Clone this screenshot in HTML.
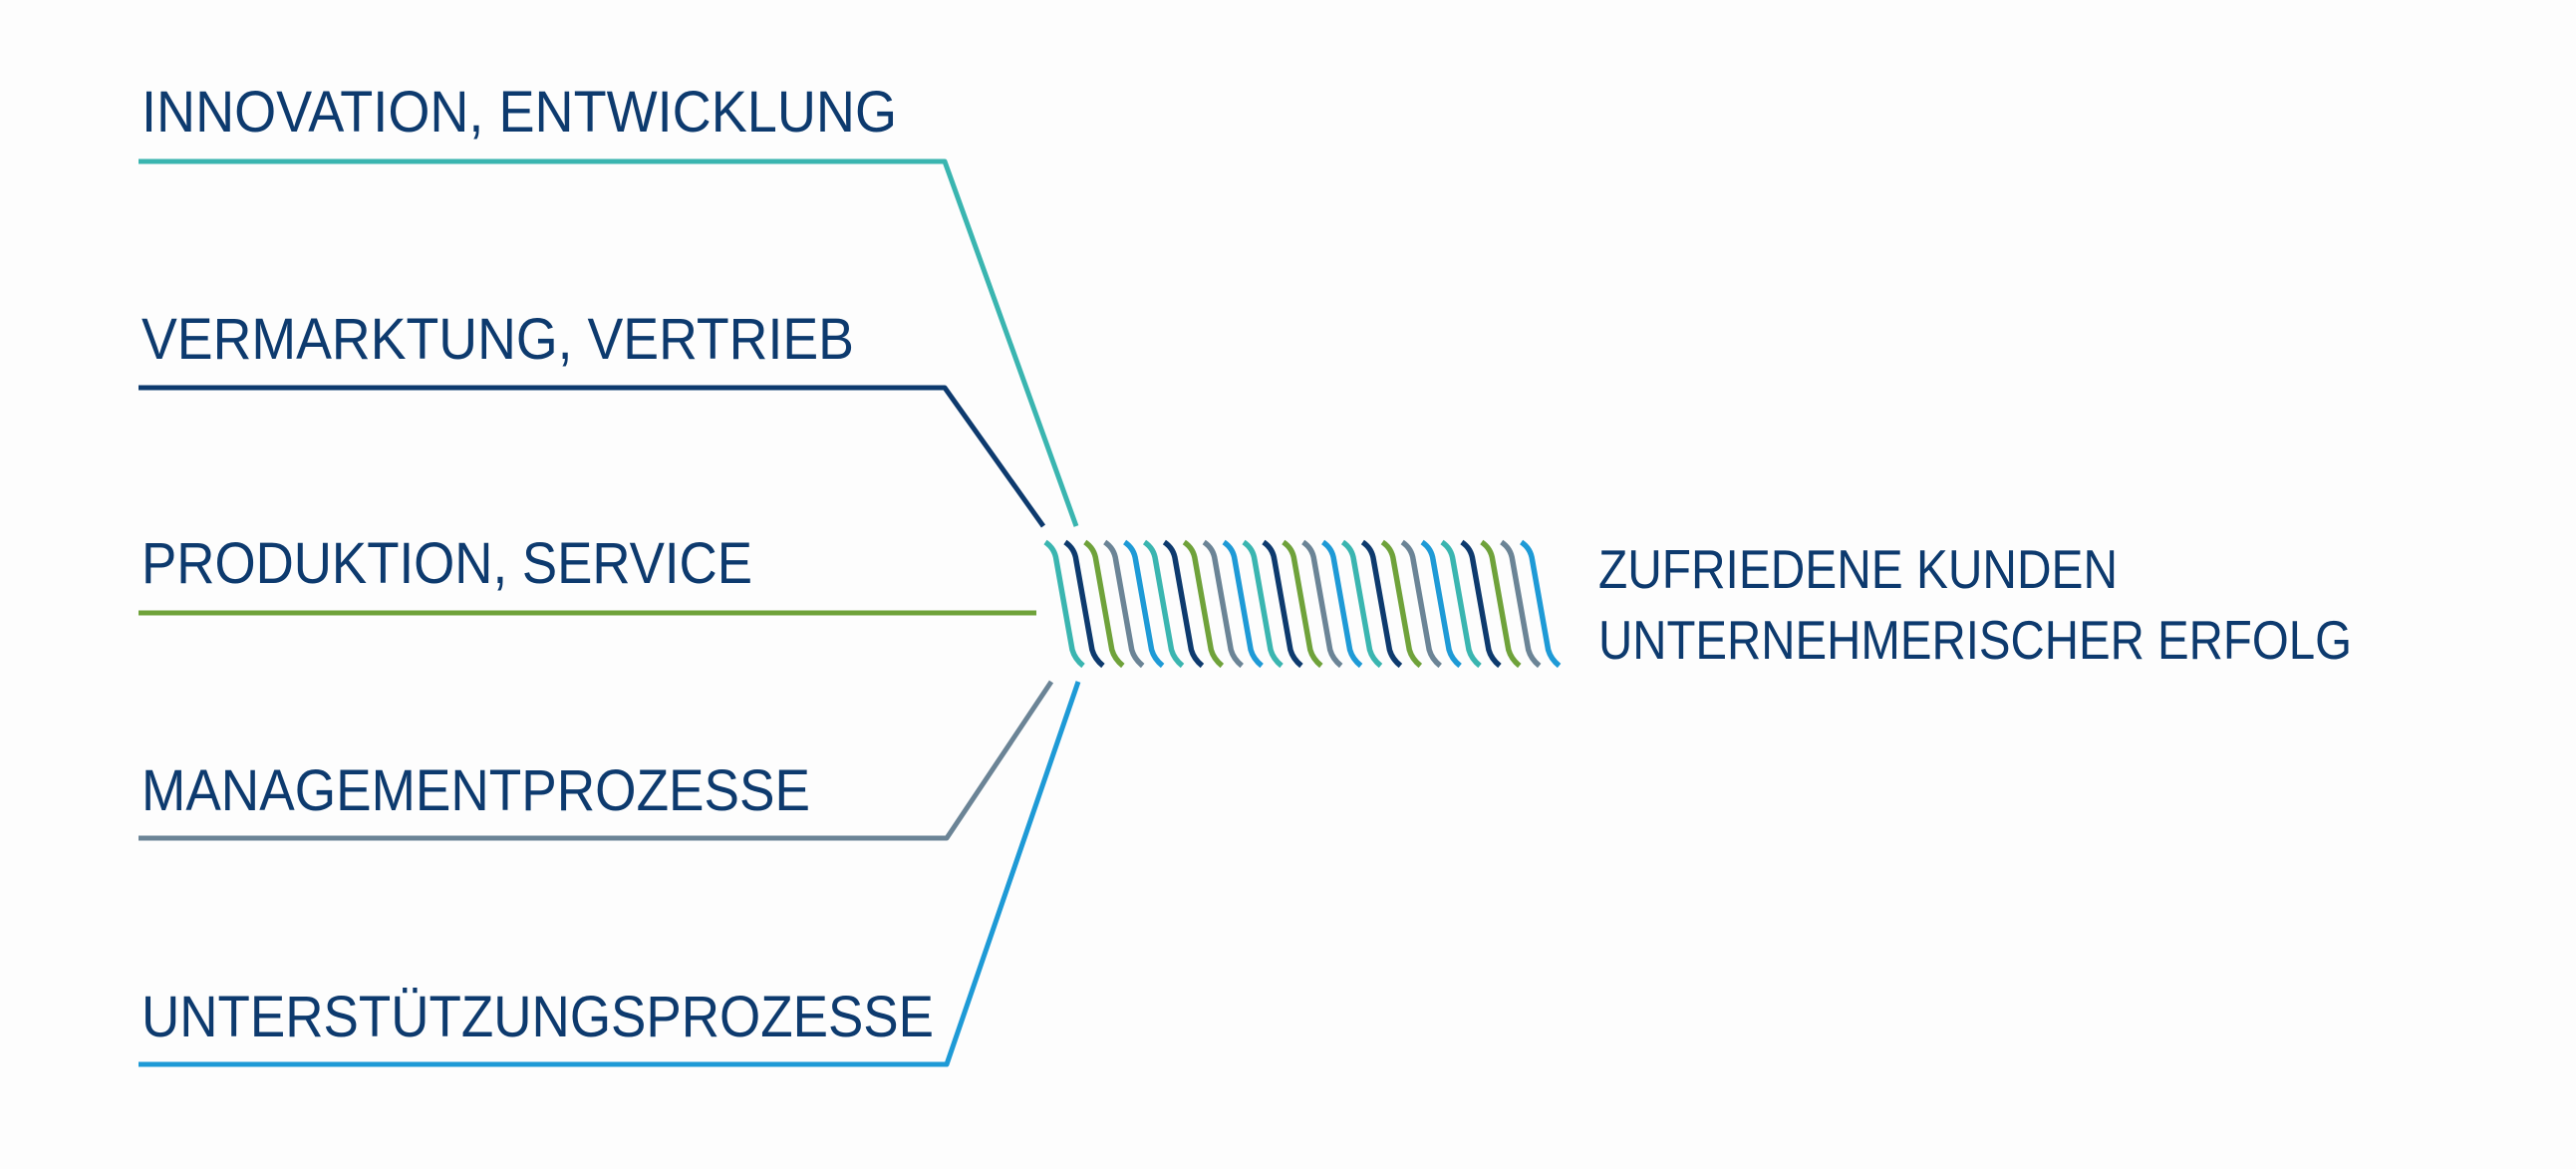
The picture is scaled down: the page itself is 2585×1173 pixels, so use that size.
<!DOCTYPE html>
<html><head><meta charset="utf-8"><style>
html,body{margin:0;padding:0;background:#fdfdfd;}
svg{display:block;}
text{font-family:"Liberation Sans",sans-serif;fill:#0d3a6e;}
</style></head><body>
<svg width="2585" height="1173" viewBox="0 0 2585 1173" xmlns="http://www.w3.org/2000/svg">
<rect width="2585" height="1173" fill="#fdfdfd"/>
<g font-size="58">
<text x="142" y="132" textLength="758" lengthAdjust="spacingAndGlyphs">INNOVATION, ENTWICKLUNG</text>
<text x="142" y="360" textLength="715" lengthAdjust="spacingAndGlyphs">VERMARKTUNG, VERTRIEB</text>
<text x="142" y="585" textLength="613" lengthAdjust="spacingAndGlyphs">PRODUKTION, SERVICE</text>
<text x="142" y="813" textLength="671" lengthAdjust="spacingAndGlyphs">MANAGEMENTPROZESSE</text>
<text x="142" y="1040" textLength="795" lengthAdjust="spacingAndGlyphs">UNTERSTÜTZUNGSPROZESSE</text>
</g>
<g font-size="55">
<text x="1604" y="590" textLength="521" lengthAdjust="spacingAndGlyphs">ZUFRIEDENE KUNDEN</text>
<text x="1604" y="661" textLength="756" lengthAdjust="spacingAndGlyphs">UNTERNEHMERISCHER ERFOLG</text>
</g>
<g fill="none" stroke-width="5" stroke-linejoin="round">
<polyline points="139,162 948,162 1080,528" stroke="#3ab5b0"/>
<polyline points="139,389 948,389 1047,528" stroke="#0d3a6e"/>
<polyline points="139,615 1040,615" stroke="#6fa23a"/>
<polyline points="139,841 950,841 1055,684" stroke="#6b8496"/>
<polyline points="139,1068 950,1068 1082,684" stroke="#1e9ad6"/>
</g>
<g fill="none" stroke-width="5.5">
<path stroke="#3ab5b0" d="M1049,544 c6,4 10,10 11,18 l16,90 c2,7 6,12 11,16"/>
<path stroke="#0d3a6e" d="M1068.9,544 c6,4 10,10 11,18 l16,90 c2,7 6,12 11,16"/>
<path stroke="#6fa23a" d="M1088.8,544 c6,4 10,10 11,18 l16,90 c2,7 6,12 11,16"/>
<path stroke="#6b8496" d="M1108.7,544 c6,4 10,10 11,18 l16,90 c2,7 6,12 11,16"/>
<path stroke="#1e9ad6" d="M1128.6,544 c6,4 10,10 11,18 l16,90 c2,7 6,12 11,16"/>
<path stroke="#3ab5b0" d="M1148.5,544 c6,4 10,10 11,18 l16,90 c2,7 6,12 11,16"/>
<path stroke="#0d3a6e" d="M1168.4,544 c6,4 10,10 11,18 l16,90 c2,7 6,12 11,16"/>
<path stroke="#6fa23a" d="M1188.3,544 c6,4 10,10 11,18 l16,90 c2,7 6,12 11,16"/>
<path stroke="#6b8496" d="M1208.2,544 c6,4 10,10 11,18 l16,90 c2,7 6,12 11,16"/>
<path stroke="#1e9ad6" d="M1228.1,544 c6,4 10,10 11,18 l16,90 c2,7 6,12 11,16"/>
<path stroke="#3ab5b0" d="M1248,544 c6,4 10,10 11,18 l16,90 c2,7 6,12 11,16"/>
<path stroke="#0d3a6e" d="M1267.9,544 c6,4 10,10 11,18 l16,90 c2,7 6,12 11,16"/>
<path stroke="#6fa23a" d="M1287.8,544 c6,4 10,10 11,18 l16,90 c2,7 6,12 11,16"/>
<path stroke="#6b8496" d="M1307.7,544 c6,4 10,10 11,18 l16,90 c2,7 6,12 11,16"/>
<path stroke="#1e9ad6" d="M1327.6,544 c6,4 10,10 11,18 l16,90 c2,7 6,12 11,16"/>
<path stroke="#3ab5b0" d="M1347.5,544 c6,4 10,10 11,18 l16,90 c2,7 6,12 11,16"/>
<path stroke="#0d3a6e" d="M1367.4,544 c6,4 10,10 11,18 l16,90 c2,7 6,12 11,16"/>
<path stroke="#6fa23a" d="M1387.3,544 c6,4 10,10 11,18 l16,90 c2,7 6,12 11,16"/>
<path stroke="#6b8496" d="M1407.2,544 c6,4 10,10 11,18 l16,90 c2,7 6,12 11,16"/>
<path stroke="#1e9ad6" d="M1427.1,544 c6,4 10,10 11,18 l16,90 c2,7 6,12 11,16"/>
<path stroke="#3ab5b0" d="M1447,544 c6,4 10,10 11,18 l16,90 c2,7 6,12 11,16"/>
<path stroke="#0d3a6e" d="M1466.9,544 c6,4 10,10 11,18 l16,90 c2,7 6,12 11,16"/>
<path stroke="#6fa23a" d="M1486.8,544 c6,4 10,10 11,18 l16,90 c2,7 6,12 11,16"/>
<path stroke="#6b8496" d="M1506.7,544 c6,4 10,10 11,18 l16,90 c2,7 6,12 11,16"/>
<path stroke="#1e9ad6" d="M1526.6,544 c6,4 10,10 11,18 l16,90 c2,7 6,12 11,16"/>
</g>
</svg>
</body></html>
